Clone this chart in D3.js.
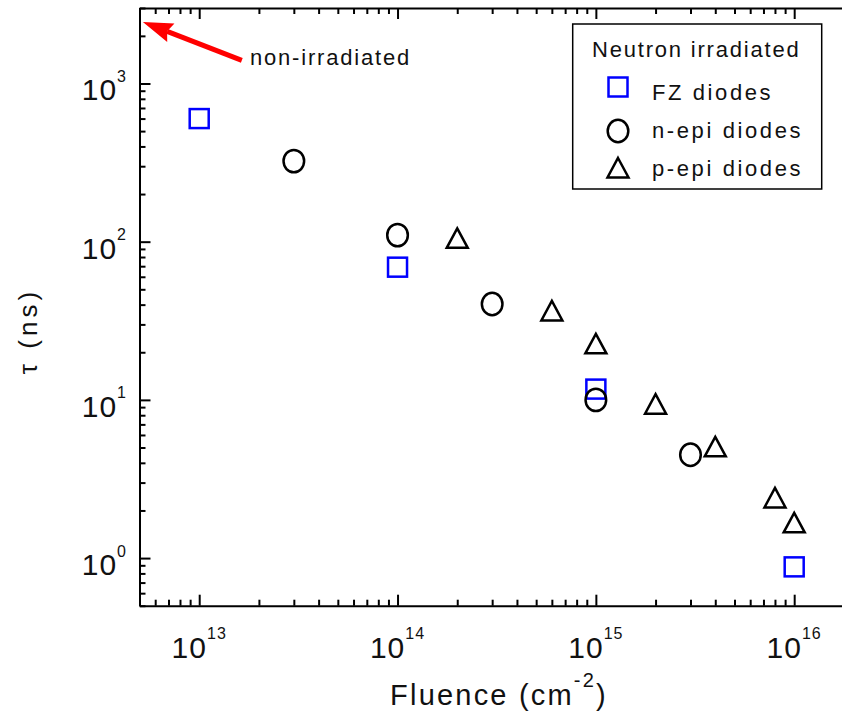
<!DOCTYPE html>
<html>
<head>
<meta charset="utf-8">
<script src="https://cdn.jsdelivr.net/npm/d3@7"></script>
<style>
  body { margin: 0; background: #fff; }
  text { font-family: "Liberation Sans", Arial, sans-serif; fill: #111; }
</style>
</head>
<body>
<div class="chart"></div>
<script>
// data
var fzFluence = [1e13, 1e14, 1e15, 1e16];
var fzTau = [600, 69, 11.7, 0.88];

var nepiFluence = [3e13, 1e14, 3e14, 1e15, 3e15];
var nepiTau = [323, 110, 40.4, 10, 4.5];

var pepiFluence = [2e14, 6e14, 1e15, 2e15, 4e15, 8e15, 1e16];
var pepiTau = [105, 36.5, 22.6, 9.4, 5.05, 2.4, 1.67];

var seriesNames = ["FZ diodes", "n-epi diodes", "p-epi diodes"];
var legendTitle = "Neutron irradiated";

var xMajorTicks = [1e13, 1e14, 1e15, 1e16];
var yMajorTicks = [1, 10, 100, 1000];

// annotation arrow (data coords) pointing at the non-irradiated value
var arrowTip = [5.2e12, 2450];
var arrowTail = [1.64e13, 1400];
var arrowText = "non-irradiated";

var svg_width = 842;
var svg_height = 713;
var plotLeft = 139.5, plotTop = 8, plotBottom = 605.7;
var decadeX = 198.33;

var svg = d3.select(".chart")
            .append("svg")
            .attr("width", svg_width)
            .attr("height", svg_height);

var x = d3.scaleLog()
          .domain([5e12, 2e16])
          .range([plotLeft, plotLeft + decadeX * Math.log10(2e16 / 5e12)]);

var y = d3.scaleLog()
          .domain([0.5, 3000])
          .range([plotBottom, plotTop]);

function exp10(v) { return Math.round(Math.log10(v)); }
function isMajor(v) { return Math.abs(Math.log10(v) - exp10(v)) < 1e-9; }

var xTicks = x.ticks();
var yTicks = y.ticks();

function styleAxis(g, majorLen, attr) {
  g.select(".domain").attr("stroke", "#000").attr("stroke-width", 2);
  g.selectAll(".tick line")
    .attr("stroke", "#000")
    .attr("stroke-width", 2)
    .filter(d => isMajor(d))
    .attr(attr, majorLen);
}

// bottom axis, ticks inward
svg.append("g")
   .attr("transform", "translate(0," + plotBottom + ")")
   .call(d3.axisBottom(x).tickValues(xTicks).tickSize(-6).tickSizeOuter(0).tickFormat(""))
   .call(g => styleAxis(g, -11, "y2"));

// top axis, ticks inward
svg.append("g")
   .attr("transform", "translate(0," + plotTop + ")")
   .call(d3.axisTop(x).tickValues(xTicks).tickSize(-6).tickSizeOuter(0).tickFormat(""))
   .call(g => styleAxis(g, 11, "y2"));

// left axis, ticks inward
svg.append("g")
   .attr("transform", "translate(" + plotLeft + ",0)")
   .call(d3.axisLeft(y).tickValues(yTicks).tickSize(-6).tickSizeOuter(0).tickFormat(""))
   .call(g => styleAxis(g, 11, "x2"));

// tick labels 10^n
svg.selectAll(".xlab")
   .data(xMajorTicks)
   .enter()
   .append("text")
   .attr("class", "xlab")
   .attr("x", d => x(d))
   .attr("y", 658)
   .attr("text-anchor", "middle")
   .style("font-size", "30px")
   .style("letter-spacing", "1px")
   .each(function(d) {
     var t = d3.select(this);
     t.append("tspan").text("10");
     t.append("tspan").attr("dy", -19).style("font-size", "16px").text(exp10(d));
   });

svg.selectAll(".ylab")
   .data(yMajorTicks)
   .enter()
   .append("text")
   .attr("class", "ylab")
   .attr("x", 127)
   .attr("y", d => y(d) + 17)
   .attr("text-anchor", "end")
   .style("font-size", "30px")
   .style("letter-spacing", "1px")
   .each(function(d) {
     var t = d3.select(this);
     t.append("tspan").text("10");
     t.append("tspan").attr("dy", -18.5).style("font-size", "16px").text(exp10(d));
   });

// axis titles
var xTitle = svg.append("text")
   .attr("x", 499)
   .attr("y", 705)
   .attr("text-anchor", "middle")
   .style("font-size", "29px")
   .style("letter-spacing", "2.2px");
xTitle.append("tspan").text("Fluence (cm");
xTitle.append("tspan").attr("dy", -18).style("font-size", "20px").text("-2");
xTitle.append("tspan").attr("dy", 18).text(")");

svg.append("text")
   .attr("transform", "translate(37,331) rotate(-90)")
   .attr("text-anchor", "middle")
   .style("font-size", "26px")
   .style("letter-spacing", "4px")
   .text("\u03c4 (ns)");

// markers
function square(sel, color) {
  sel.attr("x", -9.5).attr("y", -9.5).attr("width", 19).attr("height", 19)
     .attr("fill", "none").attr("stroke", color).attr("stroke-width", 2.5);
}
function ellipse(sel) {
  sel.attr("rx", 10.3).attr("ry", 11.2)
     .attr("fill", "none").attr("stroke", "#000").attr("stroke-width", 2.5);
}
var triPath = "M0,-10L10.5,9.5L-10.5,9.5Z";
function triangle(sel) {
  sel.attr("d", triPath)
     .attr("fill", "none").attr("stroke", "#000").attr("stroke-width", 2.5)
     .attr("stroke-linejoin", "miter");
}

svg.append("g").selectAll("rect")
   .data(d3.zip(fzFluence, fzTau))
   .enter().append("rect")
   .attr("transform", d => "translate(" + x(d[0]) + "," + y(d[1]) + ")")
   .call(square, "#0000ff");

svg.append("g").selectAll("ellipse")
   .data(d3.zip(nepiFluence, nepiTau))
   .enter().append("ellipse")
   .attr("cx", d => x(d[0]))
   .attr("cy", d => y(d[1]))
   .call(ellipse);

svg.append("g").selectAll("path")
   .data(d3.zip(pepiFluence, pepiTau))
   .enter().append("path")
   .attr("transform", d => "translate(" + x(d[0]) + "," + y(d[1]) + ")")
   .call(triangle);

// red arrow
var tip = [x(arrowTip[0]), y(arrowTip[1])];
var tail = [x(arrowTail[0]), y(arrowTail[1])];
var dx = tip[0] - tail[0], dy = tip[1] - tail[1];
var len = Math.sqrt(dx * dx + dy * dy);
var ux = dx / len, uy = dy / len, nx = -uy, ny = ux;
var headLen = 30, headW = 10, notch = 4;
var base = [tip[0] - headLen * ux, tip[1] - headLen * uy];
var back = [base[0] + notch * ux, base[1] + notch * uy];

svg.append("line")
   .attr("x1", tail[0]).attr("y1", tail[1])
   .attr("x2", back[0]).attr("y2", back[1])
   .attr("stroke", "#ff0000")
   .attr("stroke-width", 5);

svg.append("path")
   .attr("d", "M" + tip + "L" + [base[0] + headW * nx, base[1] + headW * ny] +
              "L" + back + "L" + [base[0] - headW * nx, base[1] - headW * ny] + "Z")
   .attr("fill", "#ff0000");

svg.append("text")
   .attr("x", 250)
   .attr("y", 65)
   .style("font-size", "22px")
   .style("letter-spacing", "1.8px")
   .text(arrowText);

// legend
var legend = svg.append("g").attr("class", "legend");
legend.append("rect")
      .attr("x", 572.7).attr("y", 24)
      .attr("width", 249).attr("height", 165)
      .attr("fill", "#fff").attr("stroke", "#000").attr("stroke-width", 1.5);

legend.append("text")
      .attr("x", 592).attr("y", 57)
      .style("font-size", "22px")
      .style("letter-spacing", "1.8px")
      .text(legendTitle);

var rowMarkY = [87, 131, 168];
var rowTextY = [100, 138, 176];

legend.selectAll(".lt")
      .data(seriesNames)
      .enter().append("text")
      .attr("class", "lt")
      .attr("x", 652)
      .attr("y", (d, i) => rowTextY[i])
      .style("font-size", "22px")
      .style("letter-spacing", "2.6px")
      .text(d => d);

legend.append("rect")
      .attr("transform", "translate(618," + rowMarkY[0] + ")")
      .call(square, "#0000ff");
legend.append("ellipse")
      .attr("cx", 618).attr("cy", rowMarkY[1])
      .call(ellipse);
legend.append("path")
      .attr("transform", "translate(618," + rowMarkY[2] + ")")
      .call(triangle);
</script>
</body>
</html>
